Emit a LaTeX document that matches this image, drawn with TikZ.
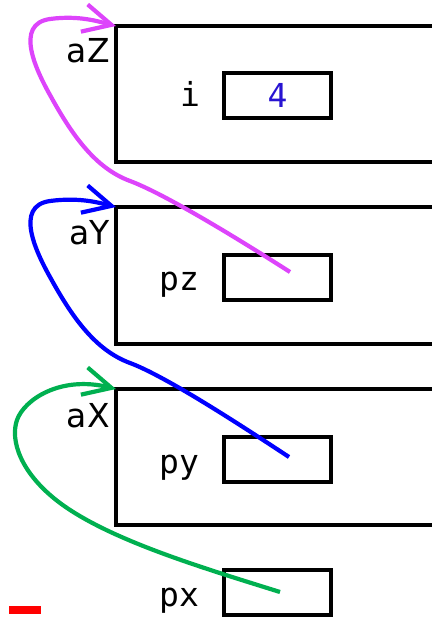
\documentclass[tikz,border=0pt]{standalone}
\usepackage{fontspec}
\setmonofont{DejaVu Sans Mono}
\setsansfont{DejaVu Sans}
\usetikzlibrary{arrows.meta}
\definecolor{mag}{RGB}{221,68,251}
\definecolor{blu}{RGB}{0,0,255}
\definecolor{grn}{RGB}{0,176,80}
\definecolor{four}{RGB}{40,20,210}
\begin{document}
\begin{tikzpicture}[x=1pt,y=-1pt,
  frame/.style={draw, line width=3.5pt, rectangle, minimum width=340pt, minimum height=136pt, anchor=north west, inner sep=0pt, outer sep=0pt},
  cell/.style={draw, line width=3.5pt, rectangle, minimum width=107pt, minimum height=45pt, inner sep=0pt, font=\fontsize{33}{33}\selectfont\ttfamily},
  lbl/.style={font=\fontsize{33}{33}\selectfont\ttfamily, inner sep=0pt, anchor=base},
  flbl/.style={font=\fontsize{33}{33}\selectfont\sffamily, inner sep=0pt, anchor=base east},
  ptr/.style={line width=4.2pt, -{Straight Barb[length=28pt,width=28pt]}}]
\useasboundingbox (0,0) rectangle (431,617);
% frames
\node[frame] (boxZ) at (116,26) {};
\node[frame, minimum height=137pt] (boxY) at (116,207) {};
\node[frame] (boxX) at (116,389) {};
% frame labels
\node[flbl] (laZ) at (110,63) {aZ};
\node[flbl] (laY) at (110,244) {aY};
\node[flbl] (laX) at (110,427) {aX};
% cells
\node[cell, text=four] (ci) at (277.5,95.5) {4};
\node[cell] (cpz) at (277.5,277.5) {};
\node[cell] (cpy) at (277.5,459.5) {};
\node[cell] (cpx) at (277.5,592.5) {};
% cell labels
\node[lbl] (li) at (190,107) {i};
\node[lbl] (lpz) at (179,290) {pz};
\node[lbl] (lpy) at (179,473) {py};
\node[lbl] (lpx) at (179,606) {px};
% pointer origins
\coordinate (pzp) at (290,272);
\coordinate (pyp) at (289,457);
\coordinate (pxp) at (280,592);
% pointers
\draw[ptr, mag] (pzp) .. controls (240,240) and (165,194) .. (130,181)
  .. controls (95,168) and (72,135) .. (50,95)
  .. controls (36,70) and (14,24) .. (50,19)
  .. controls (80,15) and (100,22) .. (boxZ.north west);
\draw[ptr, blu] (pyp) .. controls (239,424) and (165,376) .. (130,363)
  .. controls (95,350) and (72,317) .. (50,277)
  .. controls (36,252) and (14,206) .. (50,201)
  .. controls (80,197) and (100,203) .. (boxY.north west);
\draw[ptr, grn] (pxp) .. controls (200,567) and (110,540) .. (60,503)
  .. controls (20,473) and (10,440) .. (17,420)
  .. controls (24,400) and (60,375) .. (boxX.north west);
% red mark
\fill[red] (9,606) rectangle (41,614);
\end{tikzpicture}
\end{document}
